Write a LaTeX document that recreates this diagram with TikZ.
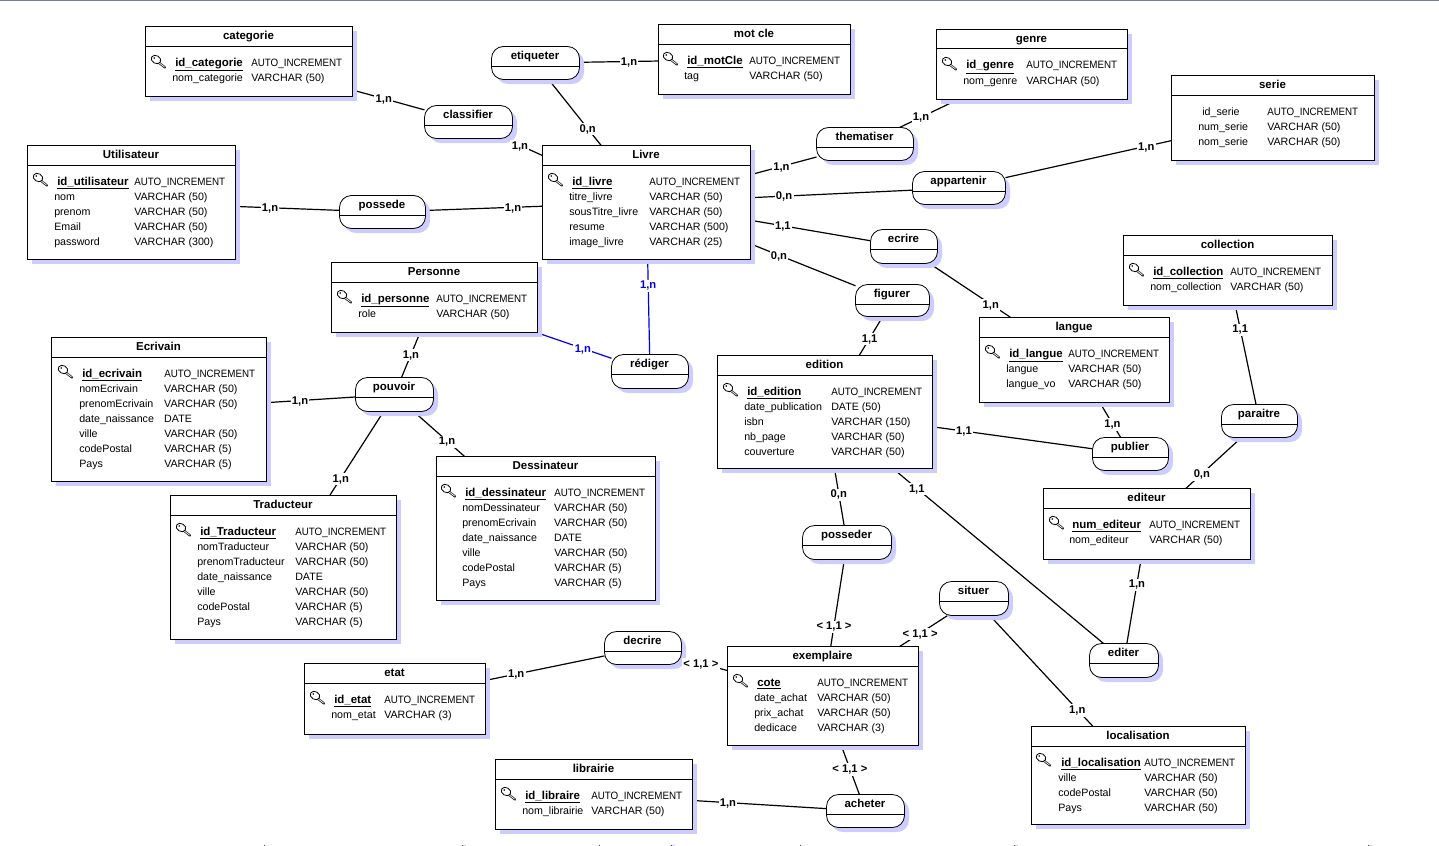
\documentclass[tikz,border=0pt]{standalone}
\usepackage{graphicx}
\usepackage{fontspec}
\setmainfont{Liberation Sans}
\usetikzlibrary{calc,shadows,backgrounds}
\newdimen\pxu \pxu=0.75pt
\definecolor{shad}{HTML}{CCCCFF}
\definecolor{topbar}{HTML}{708090}
\definecolor{linkblue}{HTML}{0000F0}
\tikzset{
  entbox/.style={draw=black,line width=0.6pt,fill=white,inner sep=0pt,outer sep=0pt,
    copy shadow={fill=shad,draw=none,shadow xshift=3.4pt,shadow yshift=-3.4pt}},
  relbox/.style={entbox,rounded corners=9pt},
  sepline/.style={draw=black,line width=0.5pt},
  ttl/.style={font=\fontsize{8.6}{10}\selectfont\bfseries,inner sep=0pt,anchor=base},
  fieldtext/.style={font=\fontsize{8}{11.25}\selectfont,inner sep=0pt,anchor=north west},
  conn/.style={draw=black,line width=0.9pt},
  lbl/.style={font=\fontsize{8.4}{10}\selectfont\bfseries,fill=white,inner sep=1pt,yshift=-0.6pt},
  bluelink/.style={draw=linkblue},
  bluelbl/.style={text=linkblue}
}
\newcommand\pk[1]{\hspace*{3\pxu}{\fontsize{8.6}{11.25}\selectfont\textbf{\underline{#1}}}}
\newcommand\ainc{\scalebox{0.92}[1]{AUTO\_INCREMENT}}
\newcommand\keyicon[2]{%
  \begin{scope}[shift={(#1,#2)}]
    \draw[line width=1.7pt,line cap=round,black!85] (7,7) -- (14,12.5);
    \draw[white,line width=0.5pt] (7,7) -- (13.5,12);
    \draw[line width=0.6pt,fill=white,rotate around={-30:(5,4.5)}] (5,4.5) ellipse [x radius=5,y radius=3.9];
    \fill (3.3,3) circle [radius=0.9];
  \end{scope}}
% id x1 y1 x2 y2 title namex typex rows
\newcommand\ent[9]{%
  \pgfmathsetmacro\cx{(#2+#4)/2}\pgfmathsetmacro\cy{(#3+#5)/2}%
  \pgfmathsetmacro\ww{#4-#2+1}\pgfmathsetmacro\hh{#5-#3+1}%
  \node[entbox,minimum width=\ww\pxu,minimum height=\hh\pxu] (#1) at (\cx,\cy) {};
  \draw[sepline] (#2-0.5,#3+19) -- (#4+0.5,#3+19);
  \node[ttl] (#1-t) at (\cx-0.5,#3+12.7) {#6};
  \pgfmathsetmacro\colw{#8-#7}%
  \node[fieldtext] (#1-f) at (#7,#3+28.4) {\begin{tabular}{@{}p{\colw\pxu}@{}l@{}}#9\end{tabular}};
}
% id x1 y1 x2 y2 title
\newcommand\relat[6]{%
  \pgfmathsetmacro\cx{(#2+#4)/2}\pgfmathsetmacro\cy{(#3+#5)/2}%
  \pgfmathsetmacro\ww{#4-#2+1}\pgfmathsetmacro\hh{#5-#3+1}%
  \node[relbox,minimum width=\ww\pxu,minimum height=\hh\pxu] (#1) at (\cx,\cy) {};
  \draw[sepline] (#2-0.5,#3+19.5) -- (#4+0.5,#3+19.5);
  \node[ttl] (#1-t) at (\cx-0.5,#3+12.5) {#6};
}
% [line style] a b px py label
\newcommand\lnk[6][]{%
  \begin{scope}[on background layer]
    \draw[conn,#1] (#2) -- (#3);
  \end{scope}
  \node[lbl] (#2-#3) at ($(#2)!(#4,#5)!(#3)$) {#6};
}
\newcommand\lnkb[5]{%
  \begin{scope}[on background layer]
    \draw[conn,bluelink] (#1) -- (#2);
  \end{scope}
  \node[lbl,bluelbl] (#1-#2) at ($(#1)!(#3,#4)!(#2)$) {#5};
}
\begin{document}
\begin{tikzpicture}[x=0.75pt,y=-0.75pt]
\useasboundingbox (0,0) rectangle (1439,846);
\draw[topbar,line width=1.2pt] (0,0.3) -- (1439,0.3);

\ent{categorie}{146}{27}{352}{96}{categorie}{172}{251}{\pk{id\_categorie} & \ainc\\ nom\_categorie & VARCHAR (50)}
\keyicon{151}{55}
\ent{motcle}{659}{25}{850}{94}{mot cle}{684}{749}{\pk{id\_motCle} & \ainc\\ tag & VARCHAR (50)}
\keyicon{663}{52}
\ent{genre}{937}{29.6}{1127}{98.6}{genre}{963}{1026}{\pk{id\_genre} & \ainc\\ nom\_genre & VARCHAR (50)}
\keyicon{942}{57}
\ent{serie}{1172}{76}{1374}{160}{serie}{1198}{1267}{\hspace*{4\pxu}id\_serie & \ainc\\ num\_serie & VARCHAR (50)\\ nom\_serie & VARCHAR (50)}
\ent{utilisateur}{28}{146}{235}{259}{Utilisateur}{54}{134}{\pk{id\_utilisateur} & \ainc\\ nom & VARCHAR (50)\\ prenom & VARCHAR (50)\\ Email & VARCHAR (50)\\ password & VARCHAR (300)}
\keyicon{33}{173}
\ent{livre}{543}{146}{750}{259}{Livre}{569}{649}{\pk{id\_livre} & \ainc\\ titre\_livre & VARCHAR (50)\\ sousTitre\_livre & VARCHAR (50)\\ resume & VARCHAR (500)\\ image\_livre & VARCHAR (25)}
\keyicon{548}{173}
\ent{personne}{332}{263}{537}{332}{Personne}{358}{436}{\pk{id\_personne} & \ainc\\ role & VARCHAR (50)}
\keyicon{337}{290}
\ent{ecrivain}{52}{338}{266}{481}{Ecrivain}{79}{164}{\pk{id\_ecrivain} & \ainc\\ nomEcrivain & VARCHAR (50)\\ prenomEcrivain & VARCHAR (50)\\ date\_naissance & DATE\\ ville & VARCHAR (50)\\ codePostal & VARCHAR (5)\\ Pays & VARCHAR (5)}
\keyicon{58}{365}
\ent{edition}{718}{356}{932}{468}{edition}{744}{831}{\pk{id\_edition} & \ainc\\ date\_publication & DATE (50)\\ isbn & VARCHAR (150)\\ nb\_page & VARCHAR (50)\\ couverture & VARCHAR (50)}
\keyicon{723}{383}
\ent{langue}{980}{318}{1169}{402}{langue}{1006}{1068}{\pk{id\_langue} & \ainc\\ langue & VARCHAR (50)\\ langue\_vo & VARCHAR (50)}
\keyicon{985}{345}
\ent{collection}{1124}{236}{1332}{305}{collection}{1150}{1230}{\pk{id\_collection} & \ainc\\ nom\_collection & VARCHAR (50)}
\keyicon{1129}{263}
\ent{dessinateur}{437}{457}{655}{600}{Dessinateur}{462}{554}{\pk{id\_dessinateur} & \ainc\\ nomDessinateur & VARCHAR (50)\\ prenomEcrivain & VARCHAR (50)\\ date\_naissance & DATE\\ ville & VARCHAR (50)\\ codePostal & VARCHAR (5)\\ Pays & VARCHAR (5)}
\keyicon{441}{484}
\ent{traducteur}{171}{496}{396}{639}{Traducteur}{197}{295}{\pk{id\_Traducteur} & \ainc\\ nomTraducteur & VARCHAR (50)\\ prenomTraducteur & VARCHAR (50)\\ date\_naissance & DATE\\ ville & VARCHAR (50)\\ codePostal & VARCHAR (5)\\ Pays & VARCHAR (5)}
\keyicon{176}{523}
\ent{editeur}{1044}{489}{1250}{559}{editeur}{1069}{1149}{\pk{num\_editeur} & \ainc\\ nom\_editeur & VARCHAR (50)}
\keyicon{1049}{516}
\ent{exemplaire}{728}{647}{918}{745}{exemplaire}{754}{817}{\pk{cote} & \ainc\\ date\_achat & VARCHAR (50)\\ prix\_achat & VARCHAR (50)\\ dedicace & VARCHAR (3)}
\keyicon{733}{674}
\ent{etat}{305}{664}{485}{734}{etat}{331}{384}{\pk{id\_etat} & \ainc\\ nom\_etat & VARCHAR (3)}
\keyicon{310}{691}
\ent{librairie}{496}{760}{692}{829}{librairie}{522}{591}{\pk{id\_libraire} & \ainc\\ nom\_librairie & VARCHAR (50)}
\keyicon{501}{787}
\ent{localisation}{1032}{727}{1245}{824}{localisation}{1058}{1144}{\pk{id\_localisation} & \ainc\\ ville & VARCHAR (50)\\ codePostal & VARCHAR (50)\\ Pays & VARCHAR (50)}
\keyicon{1036}{753}

\relat{etiqueter}{492}{47}{579}{79}{etiqueter}
\relat{classifier}{425}{106}{512}{138}{classifier}
\relat{possede}{340}{196}{425}{228}{possede}
\relat{thematiser}{817}{128}{913}{160}{thematiser}
\relat{appartenir}{913}{172}{1005}{204}{appartenir}
\relat{ecrire}{871}{230}{937}{263}{ecrire}
\relat{figurer}{856}{285}{929}{316}{figurer}
\relat{rediger}{612}{355}{688}{388}{rédiger}
\relat{pouvoir}{356}{378}{433}{411}{pouvoir}
\relat{paraitre}{1222}{405}{1297}{437}{paraitre}
\relat{publier}{1093}{438}{1168}{470}{publier}
\relat{posseder}{803}{526}{891}{559}{posseder}
\relat{situer}{940}{582}{1008}{615}{situer}
\relat{decrire}{605}{632}{681}{664}{decrire}
\relat{editer}{1090}{644}{1158}{677}{editer}
\relat{acheter}{827}{795}{904}{827}{acheter}

\lnk{categorie}{classifier}{384}{98}{1,n}
\lnk{classifier}{livre}{520}{145}{1,n}
\lnk{etiqueter}{motcle}{629}{61}{1,n}
\lnk{etiqueter}{livre}{587}{129}{0,n}
\lnk{thematiser}{genre}{921}{117}{1,n}
\lnk{thematiser}{livre}{781}{165}{1,n}
\lnk{appartenir}{serie}{1146}{145}{1,n}
\lnk{appartenir}{livre}{784}{195}{0,n}
\lnk{ecrire}{livre}{783}{225}{1,1}
\lnk{ecrire}{langue}{991}{304}{1,n}
\lnk{figurer}{livre}{779}{255}{0,n}
\lnk{figurer}{edition}{869}{338}{1,1}
\lnk{possede}{utilisateur}{270}{208}{1,n}
\lnk{possede}{livre}{513}{207}{1,n}
\lnkb{rediger}{livre}{649}{285}{1,n}
\lnkb{rediger}{personne}{583}{348}{1,n}
\lnk{pouvoir}{personne}{412}{355}{1,n}
\lnk{pouvoir}{ecrivain}{300}{400}{1,n}
\lnk{pouvoir}{traducteur}{342}{479}{1,n}
\lnk{pouvoir}{dessinateur}{447}{441}{1,n}
\lnk{publier}{edition}{964}{431}{1,1}
\lnk{publier}{langue}{1112}{424}{1,n}
\lnk{paraitre}{collection}{1240}{329}{1,1}
\lnk{paraitre}{editeur}{1202}{474}{0,n}
\lnk{posseder}{edition}{839}{494}{0,n}
\lnk{posseder}{exemplaire}{834}{626}{< 1,1 >}
\lnk{editer}{edition}{917}{488}{1,1}
\lnk{editer}{editeur}{1137}{584}{1,n}
\lnk{situer}{exemplaire}{920}{633}{< 1,1 >}
\lnk{situer}{localisation}{1077}{710}{1,n}
\lnk{decrire}{exemplaire}{701}{663}{< 1,1 >}
\lnk{decrire}{etat}{516}{673}{1,n}
\lnk{acheter}{exemplaire}{849}{769}{< 1,1 >}
\lnk{acheter}{librairie}{728}{802}{1,n}

\foreach \tx/\ty in {264/0,462/4,599/0,671/4,800/0,1014/4,1368/4}{
  \fill[shad] (\tx,844.5) rectangle (\tx+\ty,846);
  \draw[black!70,line width=0.5pt] (\tx,844.5) -- (\tx,846);
}
\end{tikzpicture}
\end{document}
